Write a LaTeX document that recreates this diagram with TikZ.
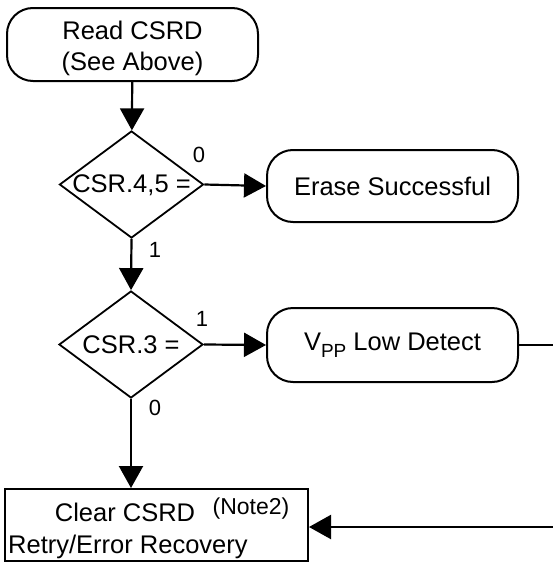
\documentclass[tikz,border=0pt]{standalone}
\usepackage{fontspec}
\setmainfont{Liberation Sans}
\usetikzlibrary{shapes.geometric,arrows.meta}
\begin{document}
\begin{tikzpicture}[x=1pt,y=-1pt,
  every node/.style={font=\fontsize{25.5}{31}\selectfont},
  term/.style={draw,line width=2pt,rounded corners=26pt,minimum width=251pt,inner sep=0pt,align=center},
  dec/.style={draw,diamond,line width=1.8pt,minimum width=144pt,minimum height=107pt,inner sep=0pt},
  proc/.style={draw,line width=2pt,minimum width=303pt,minimum height=72pt,inner sep=0pt},
  lbl/.style={font=\fontsize{22}{22}\selectfont,inner sep=0pt},
  conn/.style={line width=2.2pt,-{Triangle[length=22pt,width=24pt]}}]
\useasboundingbox (0,0) rectangle (553,562);
\node[term,minimum height=73pt] (read) at (132.5,44.5) {};
\node[inner sep=0pt,align=center] (rt) at (132.5,48) {Read CSRD\\(See Above)};
\node[dec] (d1) at (131.5,184.5) {};
\node[inner sep=0pt] (t1) at (131.5,185) {CSR.4,5 =};
\node[term,minimum height=72pt] (ok) at (392.5,186) {Erase Successful};
\node[dec] (d2) at (131,344.5) {};
\node[inner sep=0pt] (t2) at (131,345) {CSR.3 =};
\node[term,minimum height=74pt] (vpp) at (392.5,345) {V\raisebox{-7pt}{\fontsize{19}{19}\selectfont PP} Low Detect};
\node[proc] (clr) at (156.5,525) {};
\node[inner sep=0pt] (c1) at (125,512) {Clear CSRD};
\node[inner sep=0pt,font=\fontsize{23}{23}\selectfont] (c2) at (251,509) {(Note2)};
\node[inner sep=0pt,anchor=west] (c3) at (8,547) {Retry/Error Recovery};
\node[lbl] (l0a) at (199,155) {0};
\node[lbl] (l1a) at (155,250) {1};
\node[lbl] (l1b) at (202,319) {1};
\node[lbl] (l0b) at (155,408) {0};
\draw[conn] (read) -- (d1);
\draw[conn] (d1.east) -- (ok.west);
\draw[conn] (d1.south) -- (d2.north);
\draw[conn] (d2.east) -- (vpp.west);
\draw[conn] (d2.south) -- (clr.north -| d2.south);
\draw[conn] (vpp.east) -- (600,345) -- (600,527) -- (clr.east |- 0,527);
\end{tikzpicture}
\end{document}
